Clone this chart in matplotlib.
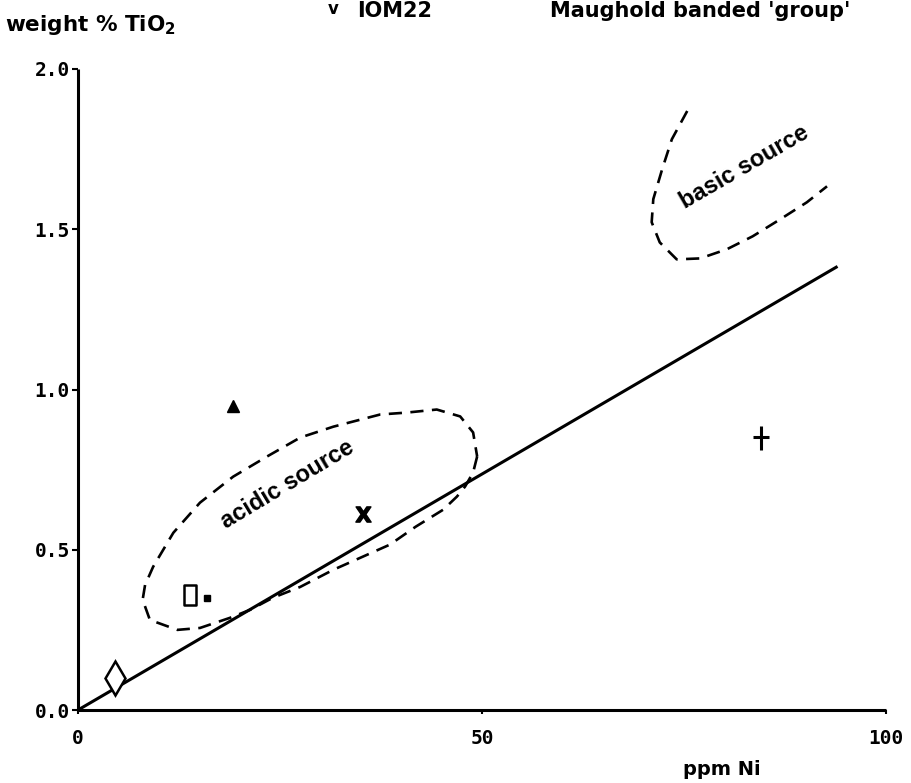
import matplotlib
matplotlib.use("Agg")
import matplotlib.pyplot as plt
from matplotlib.path import Path

# Samples: ppm Ni vs weight % TiO2
diamond_pt = (4.6, 0.10)
triangle_pt = (19.2, 0.95)
open_rect_pt = (13.9, 0.36)
filled_sq_pt = (16.0, 0.35)
cross_x_pt = (35.3, 0.61)
plus_pt = (84.5, 0.85)

# Reference line through the origin
line_x = [0.0, 94.0]
line_y = [0.0, 1.384]

# Field boundary of acidic source rocks (closed)
acidic_x = [49.4, 48.9, 47.9, 46.9, 45.2, 41.8, 38.6, 31.6, 27.5, 24.1, 21.3,
            18.8, 15.1, 12.3, 8.9, 8.0, 8.3, 9.3, 11.8, 15.1, 19.2, 23.4, 27.5,
            31.6, 37.4, 40.7, 44.4, 47.3, 48.9, 49.4]
acidic_y = [0.791, 0.741, 0.697, 0.666, 0.625, 0.572, 0.516, 0.4375, 0.384,
            0.35, 0.3125, 0.2875, 0.256, 0.25, 0.281, 0.344, 0.39, 0.447,
            0.553, 0.647, 0.728, 0.791, 0.85, 0.884, 0.922, 0.928, 0.9375,
            0.916, 0.866, 0.791]

# Field boundary of basic source rocks (open)
basic_x = [75.4, 73.5, 72.3, 71.2, 71.0, 72.0, 74.1, 77.0, 80.3, 83.5, 86.9,
           90.2, 92.7]
basic_y = [1.869, 1.781, 1.6875, 1.594, 1.522, 1.459, 1.406, 1.409, 1.4375,
           1.478, 1.531, 1.584, 1.634]

x_ticks = [0, 50, 100]
x_tick_labels = ["0", "50", "100"]
y_ticks = [0.0, 0.5, 1.0, 1.5, 2.0]
y_tick_labels = ["0.0", "0.5", "1.0", "1.5", "2.0"]

fig = plt.figure(figsize=(9.12, 7.83), dpi=100)
ax = fig.add_axes([78 / 912, 1 - 710 / 783, (886 - 78) / 912, (710 - 69) / 783])
ax.set_xlim(0, 100)
ax.set_ylim(0, 2.0)
ax.patch.set_alpha(0)
for side in ("top", "right"):
    ax.spines[side].set_visible(False)
for side in ("left", "bottom"):
    ax.spines[side].set_linewidth(2.2)
    ax.spines[side].set_capstyle("butt")

mono = "DejaVu Sans Mono"
ax.set_xticks(x_ticks)
ax.set_xticklabels(x_tick_labels, fontfamily=mono, fontsize=14,
                   fontweight="bold")
ax.set_yticks(y_ticks)
ax.set_yticklabels(y_tick_labels, fontfamily=mono, fontsize=14,
                   fontweight="bold")
ax.tick_params(axis="x", length=3, width=1.5, pad=11)
ax.tick_params(axis="y", length=4, width=1.5, pad=2)

ink = "black"
ax.plot(line_x, line_y, color=ink, lw=2.2, solid_capstyle="butt")

dash = dict(color=ink, lw=1.9, dashes=(5, 3.2), dash_capstyle="butt",
            solid_joinstyle="round")
ax.plot(acidic_x, acidic_y, **dash)
ax.plot(basic_x, basic_y, **dash)

# Sample symbols
ax.plot(*diamond_pt, marker="d", ms=17, mfc="white", mec=ink, mew=1.8)
ax.plot(*triangle_pt, marker="^", ms=8, color=ink)
rect = Path([(-0.3, -0.5), (0.3, -0.5), (0.3, 0.5), (-0.3, 0.5), (-0.3, -0.5)],
            [Path.MOVETO, Path.LINETO, Path.LINETO, Path.LINETO, Path.CLOSEPOLY])
ax.plot(*open_rect_pt, marker=rect, ms=14, mfc="none", mec=ink, mew=1.8)
ax.plot(*filled_sq_pt, marker="s", ms=5, color=ink)
ax.plot(*cross_x_pt, marker=r"$\mathbf{X}$", ms=11, color=ink)
tall_plus = Path([(0, -0.6), (0, 0.6), (-0.4, 0.05), (0.4, 0.05)],
                 [Path.MOVETO, Path.LINETO, Path.MOVETO, Path.LINETO])
ax.plot(*plus_pt, marker=tall_plus, ms=17, mec=ink, mew=2.2)

lab = dict(fontfamily="Liberation Sans", fontweight="bold", color=ink,
           ha="center", va="center", rotation_mode="anchor")
ax.text(25.9, 0.703, "acidic source", fontsize=17, rotation=31, **lab)
ax.text(82.5, 1.694, "basic source", fontsize=17, rotation=30, **lab)

head = dict(fontfamily="DejaVu Sans", fontweight="bold", color=ink)
fig.text(5 / 912, 1 - 31 / 783, r"weight % TiO$_\mathregular{2}$",
         fontsize=15.5, va="baseline", ha="left", **head)
fig.text(683 / 912, 1 - 775 / 783, "ppm Ni", fontsize=14, va="baseline",
         ha="left", **head)
fig.text(333 / 912, 1 - 14 / 783, "v", fontsize=12, va="baseline", ha="center",
         **head)
fig.text(357 / 912, 1 - 17 / 783, "IOM22", fontsize=15, va="baseline",
         ha="left", **head)
fig.text(550 / 912, 1 - 17 / 783, "Maughold banded 'group'", fontsize=15,
         va="baseline", ha="left", **head)

fig.savefig("out.png", dpi=100)
